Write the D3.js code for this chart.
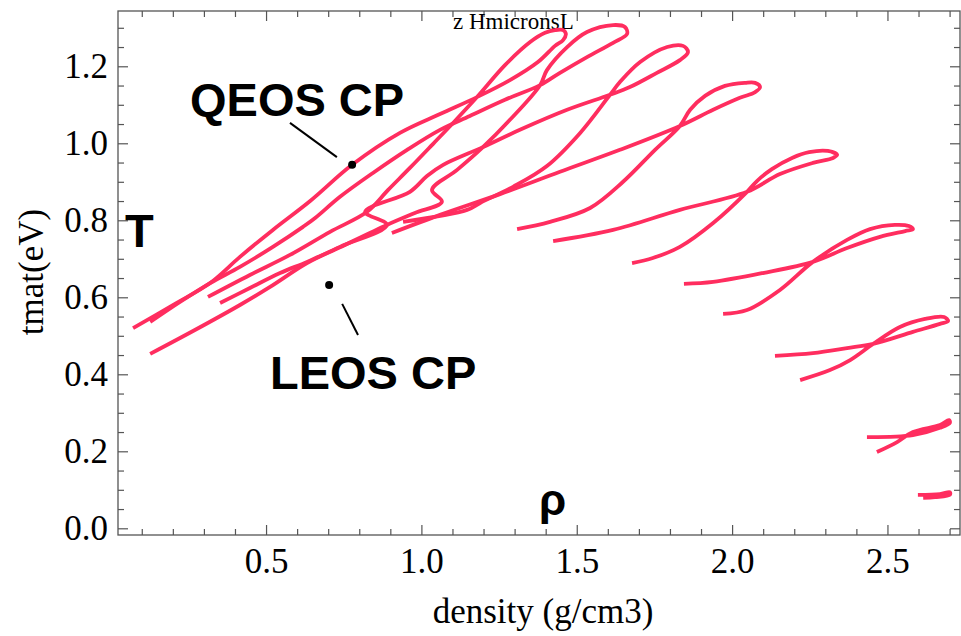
<!DOCTYPE html>
<html>
<head>
<meta charset="utf-8">
<script src="https://cdn.jsdelivr.net/npm/d3@7"></script>
<style>
  body { margin: 0; background: #fff; }
</style>
</head>
<body>
<svg id="chart" width="961" height="636"></svg>
<script>
// density (g/cm3), tmat (eV) pairs, one track per z
const track1 = [[0.072,0.520],[0.207,0.583],[0.320,0.637],[0.416,0.705],[0.522,0.775],[0.642,0.850],[0.777,0.944],[0.931,1.027],[1.060,1.076],[1.179,1.120],[1.285,1.164],[1.375,1.211],[1.430,1.253],[1.456,1.268],[1.465,1.284],[1.456,1.294],[1.430,1.294],[1.398,1.287],[1.350,1.263],[1.269,1.203],[1.179,1.120],[1.108,1.058],[1.037,0.998],[0.963,0.936],[0.893,0.879],[0.825,0.822],[0.706,0.770],[0.577,0.710],[0.448,0.658],[0.313,0.601]];
const track2 = [[0.127,0.536],[0.223,0.588],[0.320,0.637],[0.416,0.679],[0.522,0.731],[0.619,0.783],[0.658,0.806],[0.738,0.861],[0.844,0.923],[0.954,0.983],[1.060,1.035],[1.156,1.071],[1.269,1.113],[1.382,1.151],[1.446,1.183],[1.533,1.224],[1.617,1.261],[1.662,1.284],[1.655,1.302],[1.617,1.307],[1.533,1.289],[1.469,1.250],[1.404,1.190],[1.382,1.151],[1.285,1.061],[1.198,0.990],[1.115,0.931],[1.034,0.879],[1.066,0.848],[0.979,0.819],[0.889,0.788],[0.738,0.730],[0.632,0.689],[0.513,0.627],[0.416,0.580],[0.271,0.515],[0.127,0.453]];
const track3 = [[0.352,0.585],[0.448,0.624],[0.545,0.663],[0.632,0.692],[0.738,0.731],[0.889,0.788],[0.819,0.822],[0.963,0.874],[1.018,0.915],[1.070,0.944],[1.198,0.990],[1.317,1.035],[1.469,1.087],[1.607,1.126],[1.671,1.146],[1.758,1.183],[1.832,1.216],[1.858,1.237],[1.842,1.253],[1.791,1.250],[1.704,1.211],[1.639,1.159],[1.607,1.126],[1.511,1.027],[1.404,0.941],[1.295,0.887],[1.189,0.845],[1.147,0.827],[0.941,0.796]];
const track4 = [[0.905,0.767],[1.060,0.814],[1.253,0.868],[1.446,0.926],[1.639,0.983],[1.832,1.045],[1.939,1.087],[2.025,1.118],[2.074,1.133],[2.090,1.146],[2.074,1.157],[2.042,1.157],[1.977,1.149],[1.913,1.123],[1.865,1.087],[1.832,1.045],[1.752,0.983],[1.649,0.900],[1.543,0.832],[1.414,0.796],[1.308,0.777]];
const track5 = [[1.424,0.746],[1.617,0.775],[1.832,0.827],[2.048,0.874],[2.154,0.920],[2.260,0.949],[2.325,0.962],[2.338,0.970],[2.308,0.980],[2.248,0.977],[2.193,0.962],[2.128,0.933],[2.080,0.902],[2.048,0.874],[1.939,0.793],[1.832,0.731],[1.745,0.702],[1.678,0.689]];
const track6 = [[1.845,0.635],[1.939,0.640],[2.099,0.663],[2.260,0.692],[2.370,0.728],[2.476,0.757],[2.557,0.772],[2.582,0.777],[2.569,0.785],[2.524,0.788],[2.444,0.777],[2.370,0.749],[2.260,0.692],[2.154,0.619],[2.048,0.567],[1.971,0.557]];
const track7 = [[2.138,0.448],[2.260,0.455],[2.370,0.468],[2.454,0.479],[2.582,0.510],[2.669,0.531],[2.695,0.538],[2.682,0.549],[2.621,0.544],[2.540,0.523],[2.454,0.479],[2.380,0.437],[2.315,0.411],[2.219,0.385]];
const track8 = [[2.434,0.237],[2.582,0.242],[2.669,0.261],[2.701,0.274],[2.698,0.281],[2.669,0.268],[2.582,0.250],[2.531,0.224],[2.466,0.198]];
const track9 = [[2.598,0.087],[2.669,0.089],[2.701,0.094],[2.701,0.087],[2.653,0.081],[2.615,0.079]];
const tracks = [track1, track2, track3, track4, track5, track6, track7, track8, track9];

const xTicks = [0.5, 1.0, 1.5, 2.0, 2.5];
const xTickLabels = ["0.5", "1.0", "1.5", "2.0", "2.5"];
const yTicks = [0.0, 0.2, 0.4, 0.6, 0.8, 1.0, 1.2];
const yTickLabels = ["0.0", "0.2", "0.4", "0.6", "0.8", "1.0", "1.2"];

// critical points and the ends of their pointer lines
const critNames = ["QEOS CP", "LEOS CP"];
const critPoints = [[0.777, 0.944], [0.703, 0.632]];
const critPointers = [[[0.577, 1.053], [0.728, 0.964]], [[0.745, 0.583], [0.796, 0.502]]];

const svg = d3.select("#chart");
const W = 961, H = 636;
const frameL = 118, frameR = 960, frameT = 11, frameB = 535;

const x = d3.scaleLinear().domain([0.0235, 2.7335]).range([frameL, frameR]);
const y = d3.scaleLinear().domain([-0.0174, 1.3436]).range([frameB, frameT]);

const frameColor = "#555";
const serif = "'Liberation Serif', 'Times New Roman', Times, serif";
const sans = "'Liberation Sans', Arial, Helvetica, sans-serif";

svg.append("rect").attr("width", W).attr("height", H).attr("fill", "#fff");

// minor ticks (no labels) on all four sides
const xMinor = d3.range(1, 28).map(d => d / 10).filter(v => !xTicks.some(t => Math.abs(t - v) < 1e-6));
const yMinor = d3.range(0, 27).map(d => d * 0.05).filter(v => !yTicks.some(t => Math.abs(t - v) < 1e-6));

function frameAxis(axis, tr) {
    const g = svg.append("g").attr("transform", tr).call(axis);
    g.select(".domain").remove();
    g.selectAll(".tick line").attr("stroke", frameColor).attr("stroke-width", 1.2);
    return g;
}

frameAxis(d3.axisBottom(x).tickValues(xMinor).tickSize(-6).tickFormat(""), `translate(0,${frameB})`);
frameAxis(d3.axisTop(x).tickValues(xMinor).tickSize(-6).tickFormat(""), `translate(0,${frameT})`);
frameAxis(d3.axisLeft(y).tickValues(yMinor).tickSize(-6).tickFormat(""), `translate(${frameL},0)`);
frameAxis(d3.axisRight(y).tickValues(yMinor).tickSize(-6).tickFormat(""), `translate(${frameR},0)`);

const xAxis = frameAxis(d3.axisBottom(x).tickValues(xTicks).tickSize(-10).tickPadding(13)
    .tickFormat((d, i) => xTickLabels[i]), `translate(0,${frameB})`);
const yAxis = frameAxis(d3.axisLeft(y).tickValues(yTicks).tickSize(-10).tickPadding(10)
    .tickFormat((d, i) => yTickLabels[i]), `translate(${frameL},0)`);
frameAxis(d3.axisTop(x).tickValues(xTicks).tickSize(-10).tickFormat(""), `translate(0,${frameT})`);
frameAxis(d3.axisRight(y).tickValues(yTicks).tickSize(-10).tickFormat(""), `translate(${frameR},0)`);

[xAxis, yAxis].forEach(g => g.selectAll("text")
    .attr("fill", "#000").style("font-family", serif).style("font-size", "35px"));

svg.append("rect")
    .attr("x", frameL).attr("y", frameT)
    .attr("width", frameR - frameL).attr("height", frameB - frameT)
    .attr("fill", "none").attr("stroke", frameColor).attr("stroke-width", 1.3);

// axis titles
svg.append("text")
    .attr("x", (frameL + frameR) / 2 + 4).attr("y", 623)
    .attr("text-anchor", "middle")
    .style("font-family", serif).style("font-size", "35px")
    .text("density (g/cm3)");

svg.append("text")
    .attr("transform", "translate(43,272) rotate(-90)")
    .attr("text-anchor", "middle")
    .style("font-family", serif).style("font-size", "35px")
    .text("tmat(eV)");

svg.append("text")
    .attr("x", 453).attr("y", 29)
    .style("font-family", serif).style("font-size", "23px")
    .text("z HmicronsL");

// tracks
const line = d3.line()
    .x(d => x(d[0]))
    .y(d => y(d[1]))
    .curve(d3.curveCatmullRom.alpha(0.5));

svg.append("g")
    .selectAll("path")
    .data(tracks)
    .join("path")
    .attr("d", line)
    .attr("fill", "none")
    .attr("stroke", "#ff2d5f")
    .attr("stroke-width", 3.8)
    .attr("stroke-linejoin", "round")
    .attr("stroke-linecap", "butt");

// critical point markers
svg.append("g")
    .selectAll("line")
    .data(critPointers)
    .join("line")
    .attr("x1", d => x(d[0][0])).attr("y1", d => y(d[0][1]))
    .attr("x2", d => x(d[1][0])).attr("y2", d => y(d[1][1]))
    .attr("stroke", "#000").attr("stroke-width", 2);

svg.append("g")
    .selectAll("circle")
    .data(critPoints)
    .join("circle")
    .attr("cx", d => x(d[0])).attr("cy", d => y(d[1]))
    .attr("r", 4).attr("fill", "#000");

const bold = [
    { text: critNames[0], px: 190, py: 116, size: 47 },
    { text: critNames[1], px: 270, py: 389, size: 47 },
    { text: "T", px: 125, py: 247, size: 47 },
    { text: "ρ", px: 539, py: 515, size: 44 }
];
svg.append("g")
    .selectAll("text")
    .data(bold)
    .join("text")
    .attr("x", d => d.px).attr("y", d => d.py)
    .style("font-family", sans).style("font-weight", "bold")
    .style("font-size", d => d.size + "px")
    .text(d => d.text);
</script>
</body>
</html>
